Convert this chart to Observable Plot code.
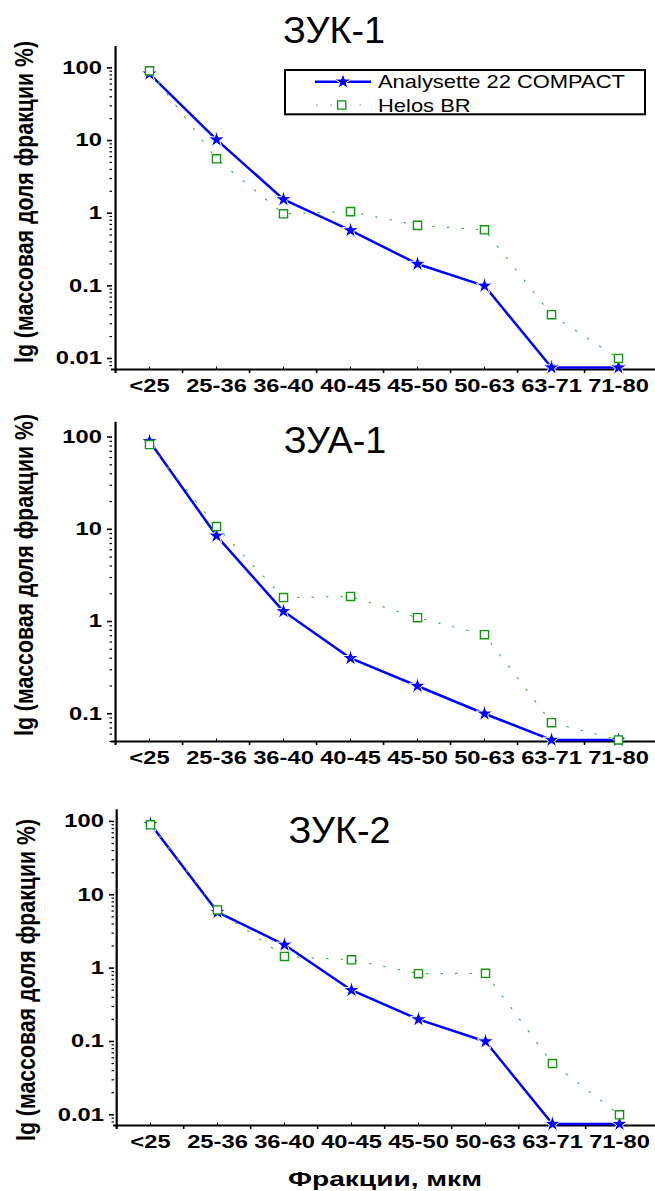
<!DOCTYPE html>
<html><head><meta charset="utf-8">
<script src="https://cdn.jsdelivr.net/npm/d3@7"></script>
<script src="https://cdn.jsdelivr.net/npm/@observablehq/plot@0.6"></script>
<style>
html,body{margin:0;padding:0;background:#fff;}
#root{position:relative;width:655px;height:1191px;overflow:hidden;background:#fff;}
#root svg.panel{position:absolute;left:0;background:transparent;}
#root svg.panel text{font-family:"Liberation Sans",Arial,sans-serif;font-weight:bold;font-size:18px;fill:#000;}
#overlay{position:absolute;left:0;top:0;}
#overlay text{font-family:"Liberation Sans",Arial,sans-serif;fill:#000;}
</style></head><body><div id="root"></div>
<script>
// ---- data ----
const categories = ["<25","25-36","36-40","40-45","45-50","50-63","63-71","71-80"];
const seriesNames = ["Analysette 22 COMPACT","Helos BR"];
const panelTitles = ["ЗУК-1","ЗУА-1","ЗУК-2"];
const zuk1Analysette = [83, 10.3, 1.55, 0.58, 0.20, 0.10, 0.0075, 0.0075];
const zuk1Helos      = [91, 5.6, 0.98, 1.05, 0.68, 0.59, 0.040, 0.010];
const zua1Analysette = [90, 8.5, 1.29, 0.40, 0.20, 0.10, 0.052, 0.052];
const zua1Helos      = [83, 10.7, 1.82, 1.87, 1.10, 0.72, 0.080, 0.052];
const zuk2Analysette = [92, 5.8, 2.08, 0.50, 0.20, 0.10, 0.0075, 0.0075];
const zuk2Helos      = [90, 6.2, 1.44, 1.30, 0.84, 0.85, 0.050, 0.010];
const yTicks = [0.01, 0.1, 1, 10, 100];
const yTickLabels = ["0.01","0.1","1","10","100"];
const yLabel = "lg (массовая доля фракции %)";
const xLabel = "Фракции, мкм";

// ---- layout ----
const W = 655;
const layout = [
  {top:0,   height:400, marginTop:46,   marginBottom:31, marginLeft:112, yDomain:[0.00705,197], titleX:334,   titleY:43,    ylabX:33, ylabY:202},
  {top:400, height:380, marginTop:21.7, marginBottom:39, marginLeft:112, yDomain:[0.05,145],    titleX:335,   titleY:453.3, ylabX:33, ylabY:575},
  {top:780, height:411, marginTop:29.3, marginBottom:66, marginLeft:114, yDomain:[0.00715,144], titleX:339.5, titleY:843.3, ylabX:35, ylabY:980}
];
const seriesA = [zuk1Analysette, zua1Analysette, zuk2Analysette];
const seriesH = [zuk1Helos, zua1Helos, zuk2Helos];
const BLUE = "#0000ff", GREEN = "#139613", GREEN_LINE = "#4cb04c";

function stretch(el, s) {
  const x = +(el.getAttribute("x") || 0);
  const tr = el.getAttribute("transform") || "";
  el.setAttribute("transform", `${tr} translate(${x},0) scale(${s},1) translate(${-x},0)`);
}

const root = document.getElementById("root");

layout.forEach((p, pi) => {
  const plotW = W - p.marginLeft;
  const plotH = p.height - p.marginTop - p.marginBottom;
  const step = plotW / categories.length;
  const rowsA = categories.map((c, i) => ({cat: c, v: seriesA[pi][i]}));
  const rowsH = categories.map((c, i) => ({cat: c, v: seriesH[pi][i]}));
  const majors = yTicks.filter(t => t >= p.yDomain[0] && t <= p.yDomain[1]);
  const minors = [];
  for (const d of [0.001, 0.01, 0.1, 1, 10, 100])
    for (let k = 2; k <= 9; k++) {
      const v = +(d * k).toPrecision(3);
      if (v >= p.yDomain[0] && v <= p.yDomain[1]) minors.push(v);
    }
  const svg = Plot.plot({
    width: W, height: p.height,
    marginLeft: p.marginLeft, marginRight: 0, marginTop: p.marginTop, marginBottom: p.marginBottom,
    x: {type: "point", domain: categories, padding: 0.5, tickSize: 0, tickPadding: 10, label: null},
    y: {type: "log", domain: p.yDomain, ticks: majors, tickFormat: d => yTickLabels[yTicks.indexOf(d)], tickSize: 0, tickPadding: 10.5, label: null},
    marks: [
      Plot.ruleY(minors, {insetLeft: -2.5, insetRight: plotW, stroke: "#000", strokeWidth: 1.2}),
      Plot.ruleY(majors, {insetLeft: -5, insetRight: plotW, stroke: "#000", strokeWidth: 1.6}),
      Plot.ruleX(categories.slice(1), {dx: -step / 2, insetTop: plotH, insetBottom: -4, stroke: "#000", strokeWidth: 1.6}),
      Plot.ruleX(categories, {insetTop: plotH - 2.5, stroke: "#000", strokeWidth: 1}),
      Plot.ruleY([p.yDomain[0]], {insetLeft: -1, stroke: "#000", strokeWidth: 2.2}),
      Plot.ruleX([categories[0]], {dx: -step / 2, insetBottom: -4, stroke: "#000", strokeWidth: 2.2}),
      Plot.line(rowsA, {x: "cat", y: "v", stroke: BLUE, strokeWidth: 2.5}),
      Plot.dot(rowsA, {x: "cat", y: "v", symbol: "star", r: 5.2, fill: BLUE, stroke: "#fff", strokeWidth: 1}),
      Plot.line(rowsH, {x: "cat", y: "v", stroke: GREEN_LINE, strokeWidth: 1.2, strokeDasharray: "1.5,13"}),
      Plot.dot(rowsH, {x: "cat", y: "v", symbol: "square", r: 4.6, fill: "#fff", stroke: GREEN, strokeWidth: 1.4})
    ]
  });
  svg.classList.add("panel");
  svg.style.position = "absolute";
  svg.style.top = p.top + "px";
  svg.style.left = "0px";
  root.appendChild(svg);
  svg.querySelectorAll("text").forEach(t => stretch(t, 1.32));
});

// ---- overlay: titles, axis labels, legend ----
const ov = d3.select(root).append("svg").attr("id", "overlay").attr("width", W).attr("height", 1191);

layout.forEach((p, pi) => {
  const t = ov.append("text").attr("x", p.titleX).attr("y", p.titleY)
    .attr("text-anchor", "middle").style("font-size", "36px").text(panelTitles[pi]);
  stretch(t.node(), 1.05);
  const yl = ov.append("text").attr("text-anchor", "middle")
    .style("font-size", "21px").style("font-weight", "bold").text(yLabel);
  const len = yl.node().getComputedTextLength() || 320;
  yl.attr("transform", `translate(${p.ylabX},${p.ylabY}) rotate(-90) scale(${322 / len},1.22)`);
});

const xl = ov.append("text").attr("x", 385).attr("y", 1186).attr("text-anchor", "middle")
  .style("font-size", "21px").style("font-weight", "bold").text(xLabel);
{
  const len = xl.node().getComputedTextLength() || 150;
  stretch(xl.node(), 194 / len);
}

// legend
const lg = ov.append("g");
lg.append("rect").attr("x", 285).attr("y", 70).attr("width", 360).attr("height", 44.3)
  .attr("fill", "#fff").attr("stroke", "#000").attr("stroke-width", 2);
lg.append("line").attr("x1", 315).attr("x2", 371).attr("y1", 81.7).attr("y2", 81.7)
  .attr("stroke", BLUE).attr("stroke-width", 2.5);
lg.append("path").attr("d", d3.symbol(d3.symbolStar, 5.2 * 5.2 * Math.PI)()).attr("transform", "translate(343,81.7)")
  .attr("fill", BLUE).attr("stroke", "#fff").attr("stroke-width", 1);
lg.append("line").attr("x1", 316).attr("x2", 372).attr("y1", 105).attr("y2", 105)
  .attr("stroke", GREEN_LINE).attr("stroke-width", 1.2).attr("stroke-dasharray", "1.5,13");
lg.append("path").attr("d", d3.symbol(d3.symbolSquare, 4.6 * 4.6 * Math.PI)()).attr("transform", "translate(341.7,105)")
  .attr("fill", "#fff").attr("stroke", GREEN).attr("stroke-width", 1.4);
const t1 = lg.append("text").attr("x", 378).attr("y", 88.3).style("font-size", "18.6px").text(seriesNames[0]);
const t2 = lg.append("text").attr("x", 378).attr("y", 111.7).style("font-size", "18.6px").text(seriesNames[1]);
{
  const len = t1.node().getComputedTextLength() || 211;
  const s = 247 / len;
  stretch(t1.node(), s);
  stretch(t2.node(), s);
}
</script></body></html>
